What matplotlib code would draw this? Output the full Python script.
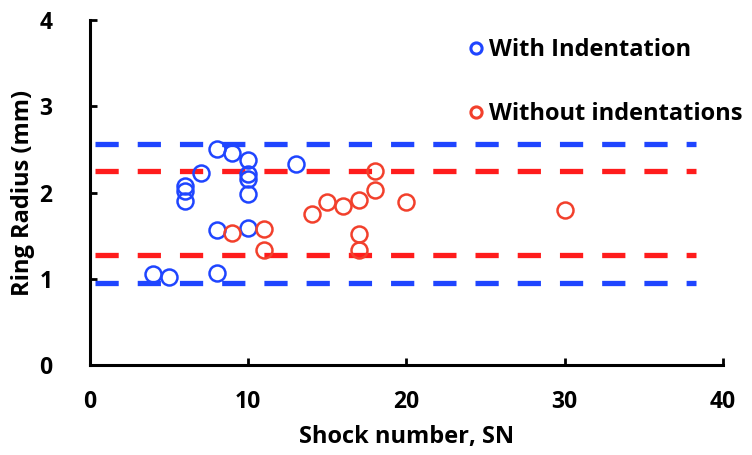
import matplotlib
matplotlib.use("Agg")
from matplotlib import pyplot as plt

# shock number and ring radius (mm)
with_x = [4, 5, 8, 6, 6, 6, 7, 8, 9, 10, 10, 10, 10, 8, 10, 13]
with_y = [1.05, 1.02, 1.07, 2.07, 2.02, 1.90, 2.23, 2.50, 2.46, 2.38, 2.22, 2.16, 1.98, 1.57, 1.59, 2.33]

without_x = [9, 11, 11, 14, 15, 16, 17, 17, 17, 18, 18, 20, 30]
without_y = [1.53, 1.58, 1.33, 1.75, 1.89, 1.84, 1.91, 1.52, 1.33, 2.25, 2.03, 1.89, 1.80]

# scatter bands (dashed lines)
with_band = [0.95, 2.56]
without_band = [1.27, 2.25]
band_x = [0.3, 38.3]

blue = "#1f45ff"
red = "#ff1c1c"
red_pt = "#f2402c"

plt.rcParams["font.family"] = ["Open Sans", "DejaVu Sans"]
plt.rcParams["font.weight"] = "bold"

fig = plt.figure(figsize=(7.52, 4.55), dpi=100)
ax = fig.add_axes([0.1197, 0.1978, 0.8417, 0.7582])

for lvl in with_band:
    ax.plot(band_x, [lvl, lvl], color=blue, lw=3.8, dashes=(4.4, 3.6), zorder=1)
for lvl in without_band:
    ax.plot(band_x, [lvl, lvl], color=red, lw=3.8, dashes=(4.4, 3.6), zorder=1)

ax.plot(with_x, with_y, "o", ls="none", ms=11.5, mfc="none", mec=blue, mew=1.8,
        label="With Indentation", zorder=3)
ax.plot(without_x, without_y, "o", ls="none", ms=11.5, mfc="none", mec=red_pt, mew=1.8,
        label="Without indentations", zorder=3)

ax.set_xlim(0, 40)
ax.set_ylim(0, 4)
ax.set_xticks([0, 10, 20, 30, 40])
ax.set_yticks([0, 1, 2, 3, 4])
for s in ["top", "right"]:
    ax.spines[s].set_visible(False)
for s in ["left", "bottom"]:
    ax.spines[s].set_linewidth(2.2)
ax.tick_params(direction="in", length=5, width=2, labelsize=16.5)
ax.tick_params(axis="x", pad=18)
ax.tick_params(axis="y", pad=27)
for t in ax.get_xticklabels() + ax.get_yticklabels():
    t.set_fontweight("bold")

ax.set_xlabel("Shock number, SN", fontsize=17, fontweight="bold", labelpad=8)
ax.set_ylabel("Ring Radius (mm)", fontsize=17, fontweight="bold", labelpad=3)

leg = ax.legend(loc="upper left", bbox_to_anchor=(0.565, 1.01), frameon=False,
                labelspacing=1.7, handlelength=0.6, handletextpad=0.25,
                markerscale=0.7, prop={"weight": "bold", "size": 17})
for h in leg.legend_handles:
    h.set_markeredgewidth(2.2)

fig.savefig("out.png", dpi=100)
